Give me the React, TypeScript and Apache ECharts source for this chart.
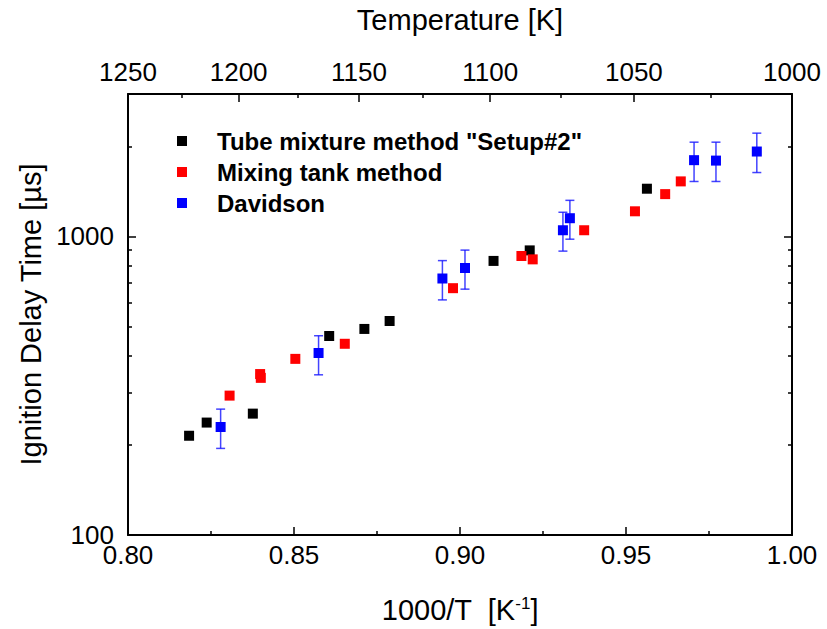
import React, { useEffect, useRef } from 'react';
import * as echarts from 'echarts';

const FONT = '"Liberation Sans", Arial, Helvetica, sans-serif';

// Tube mixture method "Setup#2"
const tubeX = [0.8184, 0.8237, 0.8376, 0.8606, 0.8712, 0.8788, 0.9101, 0.921, 0.9563];
const tubeY = [215, 238, 255, 464, 490, 521, 828, 898, 1445];

// Mixing tank method
const mixX = [0.8306, 0.8398, 0.84, 0.8504, 0.8653, 0.8979, 0.9185, 0.9219, 0.9374, 0.9527, 0.9618, 0.9665];
const mixY = [293, 346, 336, 389, 437, 671, 860, 838, 1049, 1214, 1386, 1529];

// Davidson (with error bars)
const davX = [0.8279, 0.8574, 0.8947, 0.9015, 0.931, 0.9331, 0.9705, 0.9771, 0.9894];
const davY = [230, 407, 723, 784, 1049, 1151, 1801, 1795, 1925];
const davLow = [195, 344, 613, 666, 893, 979, 1528, 1528, 1637];
const davHigh = [264, 465, 830, 900, 1205, 1321, 2069, 2069, 2218];

// Axis ticks
const tempMajor = [1250, 1200, 1150, 1100, 1050, 1000];
const tempMinor = [1225, 1175, 1125, 1075, 1025];
const yMajor = [100, 1000];
const yMinor = [200, 300, 400, 500, 600, 700, 800, 900, 2000];

const zip = (xs: number[], ys: number[]) => xs.map((x, i) => [x, ys[i]]);

const axisLineStyle = { color: '#000', width: 2 };
const tickLineStyle = { color: '#000', width: 1.5 };

function buildOption() {
  const nameStyle = { fontSize: 29, color: '#000', fontFamily: FONT };
  const labelStyle = { fontSize: 26, color: '#000', fontFamily: FONT };
  return {
    animation: false,
    backgroundColor: '#fff',
    textStyle: { fontFamily: FONT },
    grid: { left: 128, right: 35, top: 94, bottom: 92, containLabel: false },
    legend: {
      orient: 'vertical',
      left: 177,
      top: 129,
      padding: 0,
      itemGap: 7,
      itemWidth: 10,
      itemHeight: 10,
      icon: 'rect',
      data: ['Tube mixture method "Setup#2"', 'Mixing tank method', 'Davidson'],
      textStyle: {
        fontSize: 24,
        fontWeight: 'bold',
        color: '#000',
        fontFamily: FONT,
        lineHeight: 24,
        padding: [0, 0, 0, 25],
      },
    },
    xAxis: [
      {
        type: 'value',
        position: 'bottom',
        min: 0.8,
        max: 1.0,
        interval: 0.05,
        axisLine: { onZero: false, lineStyle: axisLineStyle },
        axisTick: { inside: true, length: 8, lineStyle: tickLineStyle },
        minorTick: { show: true, splitNumber: 2, length: 4, lineStyle: tickLineStyle },
        splitLine: { show: false },
        axisLabel: { ...labelStyle, margin: 7, formatter: (v: number) => v.toFixed(2) },
        name: '1000/T  [K{sup|-1}]',
        nameLocation: 'middle',
        nameGap: 60,
        nameTextStyle: {
          ...nameStyle,
          rich: {
            sup: { fontSize: 17, fontFamily: FONT, color: '#000', verticalAlign: 'top', padding: [0, 0, 12, 0] },
          },
        },
      },
      {
        type: 'value',
        position: 'top',
        min: 0.8,
        max: 1.0,
        axisLine: { onZero: false, lineStyle: axisLineStyle },
        axisTick: { inside: true, length: 8, lineStyle: tickLineStyle, customValues: tempMajor.map((t) => 1000 / t) },
        splitLine: { show: false },
        axisLabel: {
          ...labelStyle,
          margin: 9,
          customValues: tempMajor.map((t) => 1000 / t),
          formatter: (v: number) => String(Math.round(1000 / v)),
        },
        name: 'Temperature [K]',
        nameLocation: 'middle',
        nameGap: 60,
        nameTextStyle: nameStyle,
      },
      {
        type: 'value',
        position: 'top',
        min: 0.8,
        max: 1.0,
        axisLine: { show: false, onZero: false },
        axisTick: { inside: true, length: 4, lineStyle: tickLineStyle, customValues: tempMinor.map((t) => 1000 / t) },
        splitLine: { show: false },
        axisLabel: { show: false },
      },
    ],
    yAxis: [
      {
        type: 'log',
        logBase: 10,
        position: 'left',
        min: 100,
        max: 3000,
        axisLine: { onZero: false, lineStyle: axisLineStyle },
        axisTick: { inside: true, length: 8, lineStyle: tickLineStyle, customValues: yMajor },
        splitLine: { show: false },
        axisLabel: { ...labelStyle, margin: 14, customValues: yMajor, formatter: (v: number) => String(Math.round(v)) },
        name: 'Ignition Delay Time [µs]',
        nameLocation: 'middle',
        nameGap: 81,
        nameTextStyle: nameStyle,
      },
      {
        type: 'log',
        logBase: 10,
        position: 'left',
        min: 100,
        max: 3000,
        axisLine: { show: false, onZero: false },
        axisTick: { inside: true, length: 4, lineStyle: tickLineStyle, customValues: yMinor },
        splitLine: { show: false },
        axisLabel: { show: false },
      },
      {
        type: 'log',
        logBase: 10,
        position: 'right',
        min: 100,
        max: 3000,
        axisLine: { onZero: false, lineStyle: axisLineStyle },
        axisTick: { inside: true, length: 8, lineStyle: tickLineStyle, customValues: yMajor },
        splitLine: { show: false },
        axisLabel: { show: false },
      },
      {
        type: 'log',
        logBase: 10,
        position: 'right',
        min: 100,
        max: 3000,
        axisLine: { show: false, onZero: false },
        axisTick: { inside: true, length: 4, lineStyle: tickLineStyle, customValues: yMinor },
        splitLine: { show: false },
        axisLabel: { show: false },
      },
    ],
    series: [
      {
        name: 'Tube mixture method "Setup#2"',
        type: 'scatter',
        symbol: 'rect',
        symbolSize: 10,
        itemStyle: { color: '#000000', opacity: 1 },
        data: zip(tubeX, tubeY),
        z: 3,
      },
      {
        name: 'Mixing tank method',
        type: 'scatter',
        symbol: 'rect',
        symbolSize: 10,
        itemStyle: { color: '#ff0000', opacity: 1 },
        data: zip(mixX, mixY),
        z: 4,
      },
      {
        name: 'Davidson error',
        type: 'custom',
        data: davX.map((x, i) => [x, davLow[i], davHigh[i]]),
        encode: { x: 0, y: [1, 2] },
        z: 5,
        renderItem: (_params: any, api: any) => {
          const x = api.value(0);
          const pLo = api.coord([x, api.value(1)]);
          const pHi = api.coord([x, api.value(2)]);
          const hw = 4.5;
          const style = { stroke: 'rgba(20,20,255,0.8)', lineWidth: 1.5 };
          return {
            type: 'group',
            children: [
              { type: 'line', shape: { x1: pLo[0], y1: pLo[1], x2: pHi[0], y2: pHi[1] }, style },
              { type: 'line', shape: { x1: pLo[0] - hw, y1: pLo[1], x2: pLo[0] + hw, y2: pLo[1] }, style },
              { type: 'line', shape: { x1: pHi[0] - hw, y1: pHi[1], x2: pHi[0] + hw, y2: pHi[1] }, style },
            ],
          };
        },
      },
      {
        name: 'Davidson',
        type: 'scatter',
        symbol: 'rect',
        symbolSize: 10,
        itemStyle: { color: '#0000ff', opacity: 1 },
        data: zip(davX, davY),
        z: 6,
      },
    ],
  };
}

export default function App() {
  const ref = useRef<HTMLDivElement>(null);
  useEffect(() => {
    document.body.style.margin = '0';
    const chart = echarts.init(ref.current!, null, { renderer: 'svg' });
    chart.setOption(buildOption() as any);
    return () => chart.dispose();
  }, []);
  return <div ref={ref} style={{ width: 827, height: 629, background: '#fff' }} />;
}
